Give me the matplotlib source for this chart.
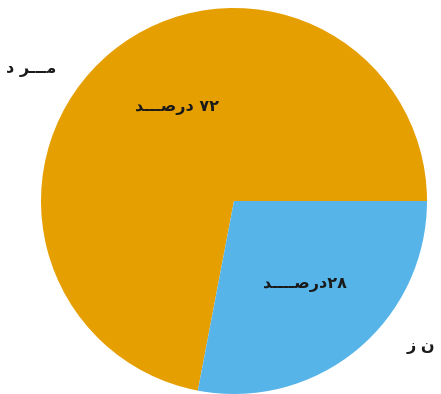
import matplotlib
matplotlib.use("Agg")
import matplotlib.pyplot as plt

# sex split, percent
shares = [72, 28]
colors = ["#E69F00", "#56B4E9"]

# Persian labels, already in visual (left-to-right) order with presentation forms,
# since matplotlib does no Arabic shaping on its own
label_man = "\uFEA9 \uFEAE\u0640\u0640\u0640\uFEE3"      # مـــرد
label_woman = "\uFEAF \uFEE5"                            # زن
word_pct = ["\uFEAA\u0640\u0640\u0640\uFEBB\uFEAD\uFEA9 ",  # درصـــد
            "\uFEAA\u0640\u0640\u0640\u0640\uFEBB\uFEAD\uFEA9"]

fa_digits = str.maketrans("0123456789", "۰۱۲۳۴۵۶۷۸۹")

W, H = 441, 394
fig = plt.figure(figsize=(W / 100, H / 100), dpi=100)
ax = fig.add_axes([0, 0, 1, 1])

idx = iter(range(len(shares)))


def pct_label(p):
    i = next(idx)
    return word_pct[i] + str(round(p)).translate(fa_digits)


wedges, texts, autotexts = ax.pie(
    shares, colors=colors, startangle=0, counterclock=True,
    center=(234, 193), radius=193, autopct=pct_label, pctdistance=0.58,
    wedgeprops=dict(linewidth=0), frame=True,
)

# nudge the percent labels to where they sit on the slices
label_pos = [(177, H - 107), (305, H - 284)]
for t, pos in zip(autotexts, label_pos):
    t.set_position(pos)
    t.set_fontsize(11.5)
    t.set_fontweight("bold")
    t.set_color("#1a1a1a")

ax.set_xlim(0, W)
ax.set_ylim(0, H)
ax.set_aspect("equal")
ax.axis("off")

ax.text(31, H - 69, label_man, fontsize=11.5, fontweight="bold", color="#1a1a1a",
        ha="center", va="center")
ax.text(421, H - 347, label_woman, fontsize=11.5, fontweight="bold", color="#1a1a1a",
        ha="center", va="center")

fig.savefig("out.png", dpi=100)
